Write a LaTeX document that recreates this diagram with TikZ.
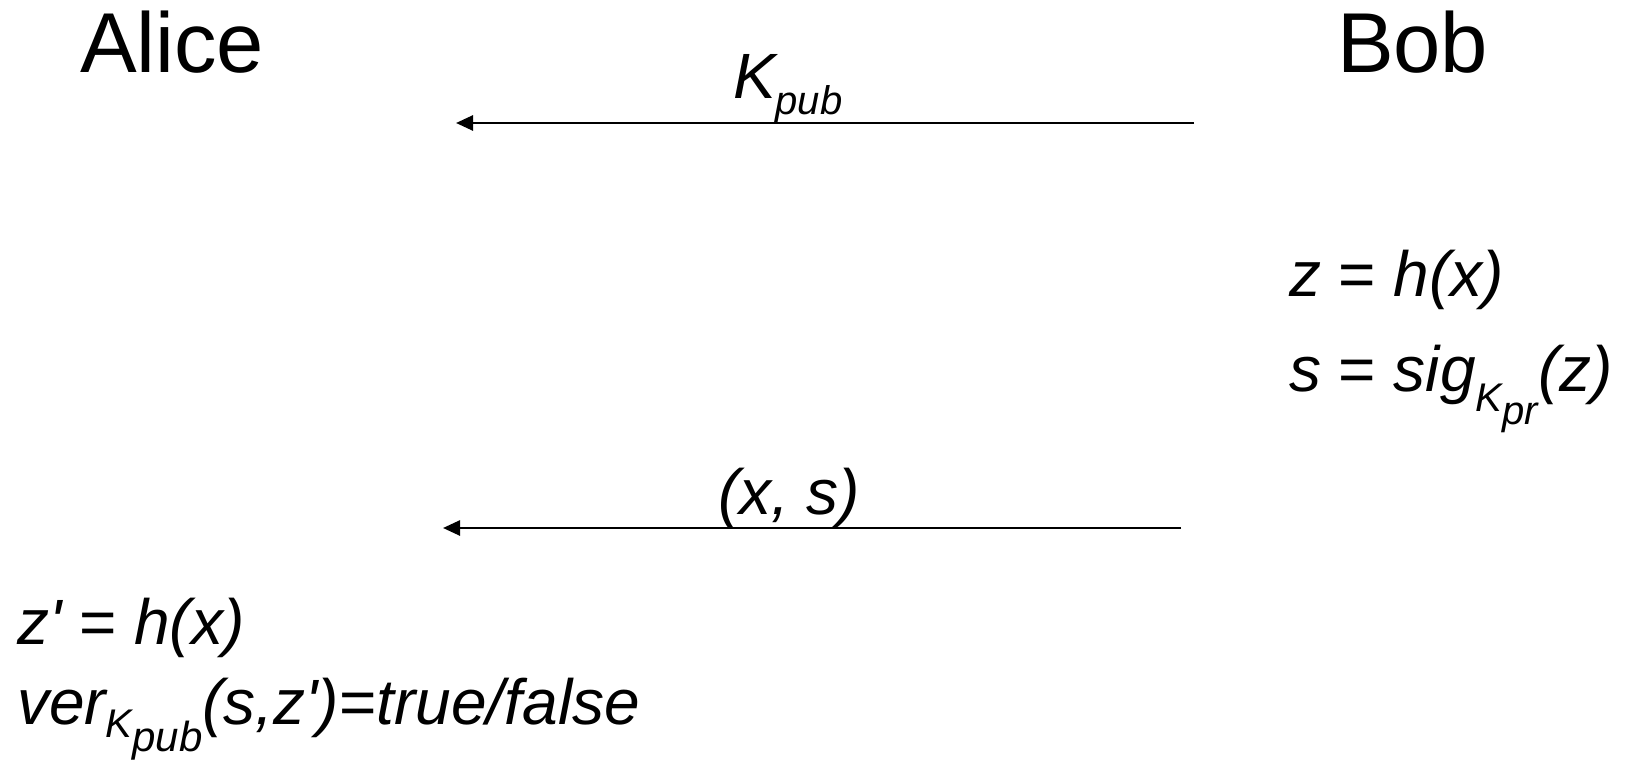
\documentclass[tikz,border=0pt]{standalone}
\usepackage{fontspec}
\setmainfont{Liberation Sans}
\usetikzlibrary{arrows.meta}
\newcommand\lowered[3]{\raisebox{-#1}{\fontsize{#2}{#2}\selectfont #3}}
\tikzset{
  lbl/.style={inner sep=0pt, outer sep=0pt, anchor=base west, font=\fontsize{64}{64}\selectfont\itshape},
  party/.style={inner sep=0pt, outer sep=0pt, anchor=base west, font=\fontsize{85}{85}\selectfont},
  msg/.style={line width=2.6pt, -{Triangle[length=17pt,width=15pt]}}
}
\begin{document}
\begin{tikzpicture}[x=1pt,y=-1pt]
\useasboundingbox (0,0) rectangle (1625,770);
\node[party] (alice) at (80,73) {Alice};
\node[party] (bob) at (1337,73) {Bob};
\coordinate (m1s) at (1194,123);
\coordinate (m1e) at (456,123);
\draw[msg] (m1s) -- (m1e);
\node[lbl] (kpub) at (733,99) {K\lowered{16pt}{40}{pub}};
\node[lbl] (bz) at (1289,296) {z {\upshape=} h(x)};
\node[lbl] (bs) at (1289,391) {s {\upshape=} sig\lowered{20pt}{40}{K}\lowered{33pt}{40}{pr}(z)};
\coordinate (m2s) at (1181,528);
\coordinate (m2e) at (443,528);
\draw[msg] (m2s) -- (m2e);
\node[lbl] (xs) at (718,514) {(x, s)};
\node[lbl] (az) at (17,644) {z\textquotesingle{} {\upshape=} h(x)};
\node[lbl] (av) at (17,724) {ver\lowered{13pt}{40}{K}\lowered{27pt}{42}{pub}(s,z\textquotesingle){\upshape=}true/false};
\end{tikzpicture}
\end{document}
